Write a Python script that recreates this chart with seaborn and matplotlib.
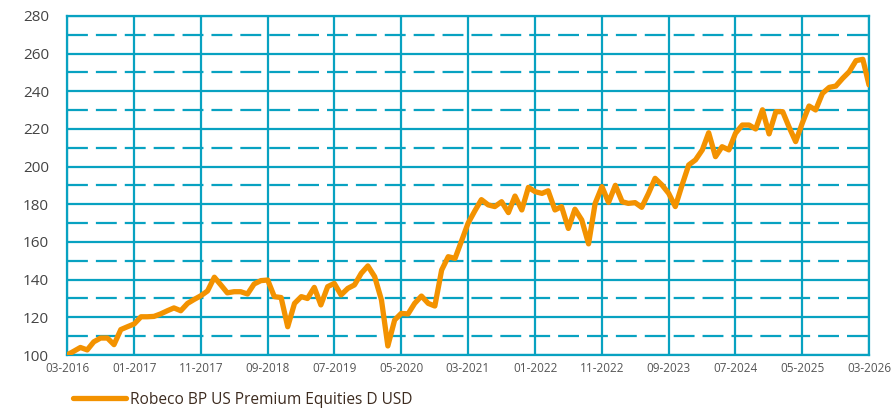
import pandas as pd
import matplotlib.pyplot as plt
import seaborn as sns

# monthly values, indexed to 100 at 03-2016
start_month = "2016-03"
values = [
    100, 102, 104, 102.7, 107, 109, 109, 105.5, 113.5, 115,
    116.5, 120.3, 120.3, 120.5, 121.8, 123.5, 125, 123.5, 127.4, 129.5,
    131.5, 134, 141.3, 137, 133, 133.6, 133.6, 132.4, 137.7, 139.5,
    139.8, 131, 130.5, 115, 127.4, 131, 130, 135.9, 126.6, 136.3,
    138, 131.9, 135.4, 137.2, 143.4, 147.3, 141.6, 129.2, 104.8, 118.6,
    122.1, 121.8, 127.4, 131.3, 127.4, 126, 145.1, 152.2, 151.3, 161,
    169.9, 176.5, 182.5, 179.7, 178.8, 181.4, 175.6, 184.4, 177, 189,
    186.7, 185.8, 187.2, 177, 178.8, 167.2, 177.4, 171.7, 159, 180.5,
    189.4, 181, 190.1, 181.4, 180.5, 180.9, 178.4, 185.8, 193.8, 190.3,
    185.8, 178.8, 190.3, 200.9, 203.6, 208.9, 218, 205.3, 210.6, 208.9,
    217.7, 222.1, 222.1, 220, 230.2, 217.4, 229.2, 229.2, 221.3, 213.3,
    223, 232.2, 230.1, 238.9, 242.1, 242.8, 246.9, 250.4, 256.3, 257,
    243.4,
]
series_name = "Robeco BP US Premium Equities D USD"
tick_labels = ["03-2016", "01-2017", "11-2017", "09-2018", "07-2019", "05-2020",
               "03-2021", "01-2022", "11-2022", "09-2023", "07-2024", "05-2025",
               "03-2026"]
y_major = [100, 120, 140, 160, 180, 200, 220, 240, 260, 280]
y_minor = [110, 130, 150, 170, 190, 210, 230, 250, 270]

df = pd.DataFrame({
    "date": pd.date_range(start_month, periods=len(values), freq="MS"),
    "value": values,
})
df["fund"] = series_name

grid_col = "#08a2c1"
line_col = "#f39200"

sns.set_theme(style="white")
plt.rcParams["font.family"] = ["Open Sans", "DejaVu Sans"]

fig = plt.figure(figsize=(8.91, 4.08), dpi=100)
ax = fig.add_axes([0.0752, 0.1299, 0.9001, 0.8309])

# grid first so the line sits on top
for v in y_minor:
    ax.axhline(v, color=grid_col, lw=1.6, ls=(0, (9.4, 3.6)), zorder=1)
for v in y_major:
    ax.axhline(v, color=grid_col, lw=1.6, zorder=1)
tick_dates = pd.to_datetime(tick_labels, format="%m-%Y")
for d in tick_dates:
    ax.axvline(d, color=grid_col, lw=1.6, zorder=1)

sns.lineplot(data=df, x="date", y="value", hue="fund", palette=[line_col],
             lw=3.8, ax=ax, zorder=3, legend=False)

ax.set_xlim(tick_dates[0], tick_dates[-1])
ax.set_ylim(100, 280)
ax.set_xticks(tick_dates)
ax.set_xticklabels(tick_labels)
ax.set_yticks(y_major)
ax.tick_params(axis="x", labelsize=8.5, colors="#555555", length=0, pad=5)
ax.tick_params(axis="y", labelsize=11, colors="#444444", length=0, pad=13)
ax.set_xlabel("")
ax.set_ylabel("")
for s in ax.spines.values():
    s.set_color(grid_col)
    s.set_linewidth(1.6)

handle = plt.Line2D([], [], color=line_col, lw=3.8)
fig.legend([handle], [series_name], loc="center left",
           bbox_to_anchor=(0.073, 0.02), frameon=False, fontsize=11.2,
           handlelength=3.4, handletextpad=0.3, borderpad=0,
           labelcolor="#3d2b1f")

fig.savefig("out.png", dpi=100)
